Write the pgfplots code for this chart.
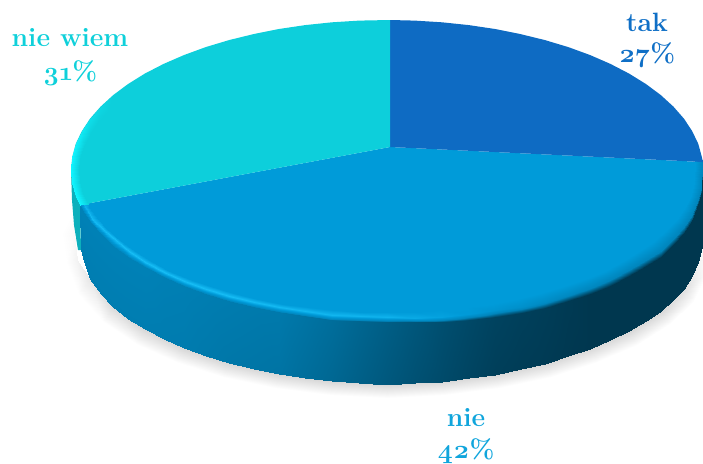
\documentclass[border=0pt]{standalone}
\usepackage{fontspec}
\setmainfont{Latin Modern Roman}[Numbers=OldStyle]
\usepackage{pgfplots}
\usepackage{pgfplotstable}
\pgfplotsset{compat=1.18}
\definecolor{ctak}{HTML}{0E6BC3}
\definecolor{cnie}{HTML}{009BD9}
\definecolor{cwiem}{HTML}{0DCFDB}
\definecolor{cwiemside}{HTML}{0CB0BC}
\definecolor{ltak}{HTML}{0F6FC6}
\definecolor{lnie}{HTML}{10A5DC}
\definecolor{lwiem}{HTML}{0FD0DA}
\pgfplotstableread{
x y c
703 240 6.9
698 262 6.7
684 289 6.2
661 311 6
629 331 6
590 348 6
545 363 6
495 374 6
442 381 6
387 384 6
332 381 6
279 374 6
229 363 6
184 348 6
145 329 6
113 307 6.1
90 279 6.4
77 260 6.7
74 233 6.85
76 206 7
712 245 7
708 272 7
694 301 7
670 324 7
637 345 7
597 362 7
551 377 7
499 388 7
444 395 7
387 398 7
330 395 7
275 388 7
223 377 7
176 362 7
136 344 7
103 322 7
78 294 7
66 262 7
62 233 7
64 204 7
}\shadowtab
\pgfplotstableread{
x y c
695.1 160 2
693.9 182.4 2
690.5 194.7 2
684.6 206.7 2
676.5 218.6 2
666.2 230 2
653.7 241 2
639.4 251.4 2
623 261.3 2
604.8 270.5 2
585 278.8 2
563.8 286.4 2
541 293 2
517.2 298.7 2
492.4 303.5 2
466.8 307.2 2
440.6 309.8 2
413.9 311.5 2
387 312 2
360.1 311.5 2
333.4 309.8 2
307.2 307.2 2
281.6 303.5 2
256.8 298.7 2
233 293 2
210.2 286.4 2
189 278.8 2
169.2 270.5 2
151 261.3 2
134.6 251.4 2
120.5 241 2
107.8 230 2
97.5 218.6 2
89.4 206.7 2
87.7 203.4 2
703 160 1
701.8 186.1 1
698.3 199.1 1
692.2 214.8 1
684 227.3 1
673.4 239.4 1
660.7 251 1
645.9 260 1
629.1 270.4 1
610.4 280.1 1
590.2 287.9 1.1
568.3 294.9 1.2
545 301.9 1.3
520.5 306.9 1.5
495.1 310 1.7
468.8 314 1.95
442 316.7 2.2
414.6 317.5 2.45
387 317 2.7
359.4 316 2.75
332 314.7 2.8
305.2 311 2.85
278.9 307 2.9
253.5 302 2.95
229 295.9 3
205.7 289 3
183.9 280.9 3
163.6 272 3
144.8 262.4 3
130.1 252 3
117.3 241 3
104 229.5 2.95
93.5 220 2.9
85.5 208 2.7
84 204.5 2.6
703 166 0
701.8 192.1 0
698.3 205.1 0
692.2 220.8 0
684 233.3 0
673.4 245.4 0
660.7 257 0
645.9 266 0
629.1 276.4 0
610.4 286.1 0
590.2 293.9 0
568.3 300.9 0.04
545 307.9 0.08
520.5 312.9 0.11
495.1 317 0.15
468.8 319.9 0.22
442 321.7 0.3
414.6 322 0.4
387 322 0.5
359.4 321.4 0.6
332 319.7 0.7
305.2 315.9 0.78
278.9 312 0.85
253.5 306.9 0.86
229 300.9 0.88
205.7 293.9 0.9
183.9 285.9 0.92
163.6 277.1 0.93
144.8 267.4 0.95
128.1 257 0.95
113.3 246 0.95
100.6 234.4 0.95
90 222.3 0.95
81.8 209.8 0.95
80 206 0.95
703 233 0
701.5 247 0
698.3 262 0
692.2 275.8 0
684 289 0
673.4 300.4 0
660.7 311 0
645.9 321 0
629.1 331 0
610.4 340.1 0
590.2 348.5 0
568.3 356 0.02
545 363.5 0.05
520.5 369 0.07
495.1 374.5 0.1
468.8 378.4 0.17
442 381.5 0.25
414.6 383.4 0.33
387 384.5 0.42
359.4 383.4 0.52
332 380.7 0.62
305.2 378 0.7
278.9 374 0.78
253.5 369 0.8
229 362.9 0.82
205.7 356 0.85
183.9 347.9 0.88
163.6 339 0.89
144.8 329.4 0.9
128.1 318.5 0.9
113.3 307 0.9
100.6 294 0.9
90 279 0.9
83 258 0.9
81 250 0.9
}\sidetab
\pgfplotstableread{
x y c
80 205 5
75.7 196.1 5
72.2 183.1 5
71 170 5
72.2 156.9 5
75.7 143.9 4.9
81.8 131.2 4.7
90 118.7 4.4
100.6 106.6 4.2
113.3 95 4
88 203.5 4
83.5 194 4
80.2 182 4
79 170 4
80.2 158 4
84 146 4
90 134 4
98 122 4
108 111 4
119 98 4
}\rimtab
\begin{document}
\begin{tikzpicture}
\begin{axis}[
  width=703pt,height=463pt,scale only axis,
  xmin=0,xmax=703,ymin=0,ymax=463,y dir=reverse,hide axis,
  point meta min=0,point meta max=7,
  colormap={pie}{rgb255=(0,55,79) rgb255=(0,133,188) rgb255=(0,155,217) rgb255=(22,189,245)
                 rgb255=(13,207,219) rgb255=(16,245,255) rgb255=(214,214,214) rgb255=(255,255,255)},
  colormap name=pie,
]
\path (axis cs:0,0) (axis cs:703,463);
% shadow
\addplot[surf,shader=interp,mesh/rows=2,mesh/cols=20,point meta=explicit]
  table[x=x,y=y,meta=c]{\shadowtab};
% side of the "nie wiem" slice
\addplot[fill=cwiemside,draw=none] coordinates {(71,170)(72,200)(74,225)(78,250)(81,250)(80,205)} -- cycle;
% nie, top face; the rim band is laid over its edge
\addplot[fill=cnie,draw=none] coordinates {(390,147)(702.6,162)(703,170)(698.3,196.1)(684,221.3)(660.7,245)(629.1,266.4)(590.2,284.9)(545,299.9)(495.1,311)(442,317.7)(387,320)(332,317.7)(278.9,311)(229,299.9)(183.9,284.9)(144.8,266.4)(113.3,245)(90,221.3)(80,205)} -- cycle;
% side of the pie with its rim band
\addplot[surf,shader=interp,mesh/rows=4,mesh/cols=35,point meta=explicit]
  table[x=x,y=y,meta=c]{\sidetab};
% tak
\addplot[fill=ctak,draw=none] coordinates {(390,147)(390,20)(414.6,20.6)(442,22.3)(468.8,25.1)(495.1,29)(520.5,34.1)(545,40.1)(568.3,47.1)(590.2,55.1)(610.4,63.9)(629.1,73.6)(645.9,84)(660.7,95)(673.4,106.6)(684,118.7)(692.2,131.2)(698.3,143.9)(701.8,156.9)(703,162)} -- cycle;
% nie wiem
\addplot[fill=cwiem,draw=none] coordinates {(390,147)(80,205)(75.7,196.1)(72.2,183.1)(71,170)(72.2,156.9)(75.7,143.9)(81.8,131.2)(90,118.7)(100.6,106.6)(113.3,95)(128.1,84)(144.8,73.6)(163.6,63.9)(183.9,55.1)(205.7,47.1)(229,40.1)(253.5,34.1)(278.9,29)(305.2,25.1)(332,22.3)(359.4,20.6)(390,20)} -- cycle;
% rim highlight of "nie wiem"
\addplot[surf,shader=interp,mesh/rows=2,mesh/cols=10,point meta=explicit]
  table[x=x,y=y,meta=c]{\rimtab};
\node[text=ltak,font=\fontsize{26.5}{26.5}\selectfont\bfseries] at (axis cs:647,22) {tak};
\node[text=ltak,font=\fontsize{26.5}{26.5}\selectfont\bfseries] at (axis cs:647,55) {27\%};
\node[text=lwiem,font=\fontsize{26.5}{26.5}\selectfont\bfseries] at (axis cs:70,38) {nie wiem};
\node[text=lwiem,font=\fontsize{26.5}{26.5}\selectfont\bfseries] at (axis cs:70,73) {31\%};
\node[text=lnie,font=\fontsize{26.5}{26.5}\selectfont\bfseries] at (axis cs:466,418) {nie};
\node[text=lnie,font=\fontsize{26.5}{26.5}\selectfont\bfseries] at (axis cs:466,451) {42\%};
\end{axis}
\end{tikzpicture}
\end{document}
